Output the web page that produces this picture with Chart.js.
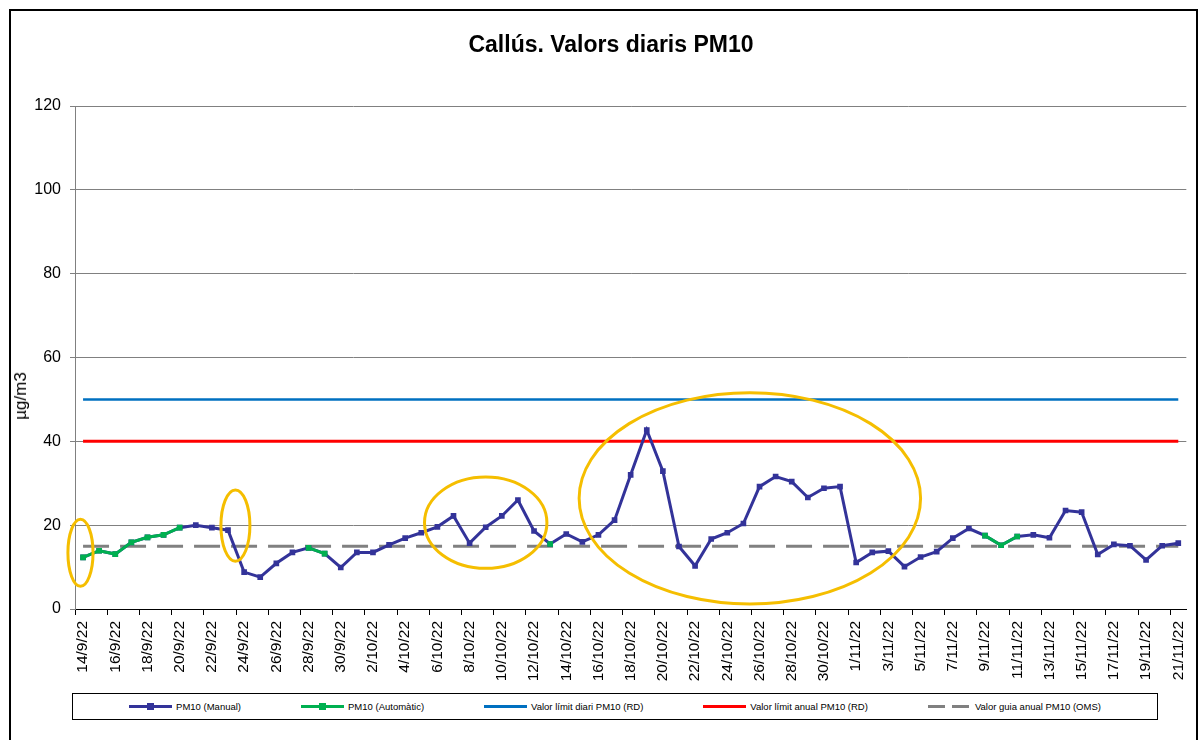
<!DOCTYPE html>
<html>
<head>
<meta charset="utf-8">
<script src="https://cdn.jsdelivr.net/npm/chart.js@4.4.1/dist/chart.umd.min.js"></script>
<style>
  body { margin: 0; background: #fff; font-family: 'Liberation Sans', Arial, sans-serif; }
  #frame { position: absolute; left: 9px; top: 9px; width: 1189px; height: 800px; border: 2px solid #000; box-sizing: border-box; }
  #title { position: absolute; left: 0; top: 31px; width: 1222px; text-align: center; font-weight: bold; font-size: 23px; color: #000; }
  #ytitle { position: absolute; left: 21px; top: 396px; transform: translate(-50%, -50%) rotate(-90deg); font-size: 17px; color: #000; white-space: nowrap; }
  #wrap { position: absolute; left: 0; top: 0; width: 1203px; height: 690px; }
  #legend { position: absolute; left: 72px; top: 693px; width: 1086px; height: 27px; border: 1px solid #000; box-sizing: border-box;
            display: flex; justify-content: center; align-items: center; gap: 60px; font-size: 9.5px; color: #000; background: #fff; }
  .item { display: flex; align-items: center; white-space: nowrap; }
  .sample { position: relative; width: 43px; height: 3px; margin-right: 4px; }
  .sample i { position: absolute; left: 18px; top: -2px; width: 7px; height: 7px; }
</style>
</head>
<body>
<div id="frame"></div>
<div id="wrap"><canvas id="chart" width="1203" height="690"></canvas></div>
<div id="title">Callús. Valors diaris PM10</div>
<div id="ytitle">µg/m3</div>
<div id="legend"></div>
<script>
// dies de mostreig
const dates = [
  '14/9/22','15/9/22','16/9/22','17/9/22','18/9/22','19/9/22','20/9/22','21/9/22','22/9/22','23/9/22',
  '24/9/22','25/9/22','26/9/22','27/9/22','28/9/22','29/9/22','30/9/22',
  '1/10/22','2/10/22','3/10/22','4/10/22','5/10/22','6/10/22','7/10/22','8/10/22','9/10/22','10/10/22',
  '11/10/22','12/10/22','13/10/22','14/10/22','15/10/22','16/10/22','17/10/22','18/10/22','19/10/22','20/10/22',
  '21/10/22','22/10/22','23/10/22','24/10/22','25/10/22','26/10/22','27/10/22','28/10/22','29/10/22','30/10/22','31/10/22',
  '1/11/22','2/11/22','3/11/22','4/11/22','5/11/22','6/11/22','7/11/22','8/11/22','9/11/22','10/11/22',
  '11/11/22','12/11/22','13/11/22','14/11/22','15/11/22','16/11/22','17/11/22','18/11/22','19/11/22','20/11/22','21/11/22'
];

// PM10 manual (µg/m3)
const pm10Manual = [
  null, null, null, null, null, null, null, 20.0, 19.4, 18.8,
  8.8, 7.6, 10.9, 13.5, null, null, 9.9,
  13.5, 13.5, 15.3, 16.9, 18.2, 19.6, 22.2, 15.7, 19.5, 22.2,
  26.0, 18.6, null, 17.9, 16.0, 17.7, 21.2, 32.0, 42.7, 32.9,
  14.9, 10.3, 16.7, 18.2, 20.4, 29.2, 31.6, 30.4, 26.6, 28.8, 29.2,
  11.1, 13.5, 13.8, 10.1, 12.4, 13.7, 16.9, 19.2, null, null,
  null, 17.7, 17.0, 23.5, 23.1, 13.0, 15.4, 15.1, 11.7, 15.1, 15.7
];

// PM10 automàtic (µg/m3)
const pm10Auto = [
  12.3, 13.9, 13.1, 15.9, 17.1, 17.7, 19.4, null, null, null,
  null, null, null, null, 14.6, 13.2, null,
  null, null, null, null, null, null, null, null, null, null,
  null, null, 15.5, null, null, null, null, null, null, null,
  null, null, null, null, null, null, null, null, null, null, null,
  null, null, null, null, null, null, null, null, 17.5, 15.2,
  17.3, null, null, null, null, null, null, null, null, null, null
];

const limitDaily = 50;   // valor límit diari (RD)
const limitAnnual = 40;  // valor límit anual (RD)
const guideOMS = 15;     // valor guia anual (OMS)

const yTicks = [0, 20, 40, 60, 80, 100, 120];

// zones marcades: centre (índex dia, valor) i semieixos (dies, µg/m3)
const highlights = [
  { x: -0.16, y: 13.4, rx: 0.78, ry: 8.0 },
  { x: 9.46, y: 19.9, rx: 0.9, ry: 8.5 },
  { x: 25.0, y: 20.6, rx: 3.8, ry: 10.9 },
  { x: 41.4, y: 26.4, rx: 10.6, ry: 25.2 }
];

const FONT = "'Liberation Sans', Arial, sans-serif";
const combined = dates.map((d, i) => pm10Manual[i] !== null ? pm10Manual[i] : pm10Auto[i]);
const flat = v => dates.map(() => v);

const ellipsePlugin = {
  id: 'ellipses',
  afterDatasetsDraw(chart) {
    const { ctx, scales: { x, y } } = chart;
    ctx.save();
    ctx.strokeStyle = '#F5BE00';
    ctx.lineWidth = 3;
    highlights.forEach(h => {
      const cx = x.getPixelForValue(h.x);
      const cy = y.getPixelForValue(h.y);
      const rx = Math.abs(x.getPixelForValue(h.x + h.rx) - cx);
      const ry = Math.abs(y.getPixelForValue(h.y + h.ry) - cy);
      ctx.beginPath();
      ctx.ellipse(cx, cy, rx, ry, 0, 0, Math.PI * 2);
      ctx.stroke();
    });
    ctx.restore();
  }
};

const chart = new Chart(document.getElementById('chart'), {
  type: 'line',
  data: {
    labels: dates,
    datasets: [
      {
        label: 'PM10 (Manual)', data: combined, order: 2,
        borderColor: '#333399', backgroundColor: '#333399', borderWidth: 3,
        pointStyle: 'rect', pointRadius: 4, pointBorderWidth: 0, tension: 0
      },
      {
        label: 'PM10 (Automàtic)', data: pm10Auto, order: 1,
        borderColor: '#00B050', backgroundColor: '#00B050', borderWidth: 3,
        pointStyle: 'rect', pointRadius: 4, pointBorderWidth: 0, tension: 0
      },
      {
        label: 'Valor límit diari PM10 (RD)', data: flat(limitDaily), order: 3,
        borderColor: '#0070C0', borderWidth: 2.5, pointRadius: 0
      },
      {
        label: 'Valor límit anual PM10 (RD)', data: flat(limitAnnual), order: 3,
        borderColor: '#FF0000', borderWidth: 3, pointRadius: 0
      },
      {
        label: 'Valor guia anual PM10 (OMS)', data: flat(guideOMS), order: 3,
        borderColor: '#808080', borderWidth: 3, borderDash: [26, 11], pointRadius: 0
      }
    ]
  },
  options: {
    responsive: false,
    animation: false,
    devicePixelRatio: 1,
    layout: { padding: { left: 10, top: 106, right: 16, bottom: 0 } },
    plugins: { legend: { display: false }, tooltip: { enabled: false }, title: { display: false } },
    scales: {
      x: {
        offset: true,
        grid: {
          offset: true, drawOnChartArea: false, tickLength: 6,
          color: c => c.index % 2 === 0 ? '#000' : 'rgba(0,0,0,0)'
        },
        border: { color: '#000', width: 1 },
        ticks: {
          autoSkip: false, maxRotation: 90, minRotation: 90, padding: 6,
          color: '#000', font: { family: FONT, size: 15.5 },
          callback: (v, i) => i % 2 === 0 ? dates[i] : ''
        },
        afterFit: s => { s.height = 81; }
      },
      y: {
        min: 0, max: 120,
        afterBuildTicks: s => { s.ticks = yTicks.map(v => ({ value: v })); },
        grid: { color: '#808080', lineWidth: 1, tickLength: 5 },
        border: { color: '#808080', width: 1 },
        ticks: { color: '#000', font: { family: FONT, size: 16 }, padding: 9 },
        afterFit: s => { s.width = 65; }
      }
    }
  },
  plugins: [ellipsePlugin]
});

// llegenda
const legend = document.getElementById('legend');
chart.data.datasets.forEach(ds => {
  const item = document.createElement('div');
  item.className = 'item';
  const sample = document.createElement('span');
  sample.className = 'sample';
  if (ds.borderDash) {
    sample.style.background = `repeating-linear-gradient(90deg, ${ds.borderColor} 0 17px, transparent 17px 24px)`;
  } else {
    sample.style.background = ds.borderColor;
  }
  if (ds.pointRadius > 0) {
    const m = document.createElement('i');
    m.style.background = ds.backgroundColor;
    sample.appendChild(m);
  }
  item.appendChild(sample);
  item.appendChild(document.createTextNode(ds.label));
  legend.appendChild(item);
});
</script>
</body>
</html>
